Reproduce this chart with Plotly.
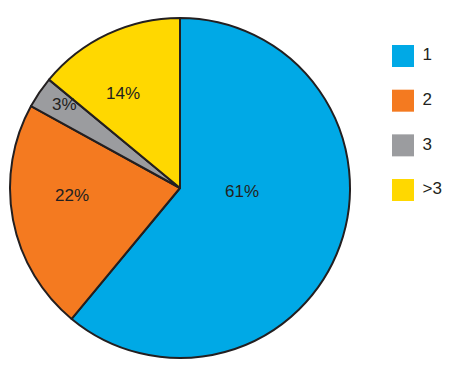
import plotly.graph_objects as go

categories = ["1", "2", "3", ">3"]
values = [61, 22, 3, 14]
colors = ["#00A9E6", "#F47A20", "#9B9C9F", "#FFD800"]
legend_index = [0, 1, 2, 3]

# layout: label anchor offsets relative to pie centre, in units of radius (x right, y down)
label_offsets = [(0.365, 0.018), (-0.635, 0.047), (-0.682, -0.494), (-0.335, -0.553)]

# figure is drawn inside the page's default 8px body margin
W, H = 450, 363
CX, CY, R = 172, 180, 170
FONT = "Liberation Sans, Arial, sans-serif"
TXT = "#231F20"

fig = go.Figure()

fig.add_trace(go.Pie(
    labels=categories,
    values=values,
    sort=False,
    direction="clockwise",
    rotation=0,
    marker=dict(colors=colors, line=dict(color=TXT, width=2)),
    textinfo="none",
    domain=dict(x=[(CX - R) / W, (CX + R) / W], y=[1 - (CY + R) / H, 1 - (CY - R) / H]),
    showlegend=False,
    hoverinfo="label+percent",
))

total = sum(values)
for v, (ox, oy) in zip(values, label_offsets):
    fig.add_annotation(
        x=(CX + ox * R) / W, y=1 - (CY + oy * R) / H,
        xref="paper", yref="paper",
        text=f"{round(v / total * 100)}%",
        showarrow=False,
        xanchor="center", yanchor="middle",
        font=dict(family=FONT, size=17, color=TXT),
    )

# custom legend with large square swatches
fig.add_trace(go.Scatter(
    x=[0] * len(categories),
    y=legend_index,
    mode="markers+text",
    marker=dict(symbol="square", size=22, color=colors, line=dict(width=0)),
    text=[" " + c for c in categories],
    textposition="middle right",
    textfont=dict(family=FONT, size=17, color=TXT),
    showlegend=False,
    hoverinfo="skip",
    cliponaxis=False,
))

fig.update_layout(
    width=W, height=H,
    margin=dict(l=0, r=0, t=0, b=0),
    paper_bgcolor="white",
    plot_bgcolor="rgba(0,0,0,0)",
    xaxis=dict(range=[-395, W - 395], visible=False, fixedrange=True),
    yaxis=dict(range=[7.052, -1.075], visible=False, fixedrange=True),
)

fig.write_html("out.html")
